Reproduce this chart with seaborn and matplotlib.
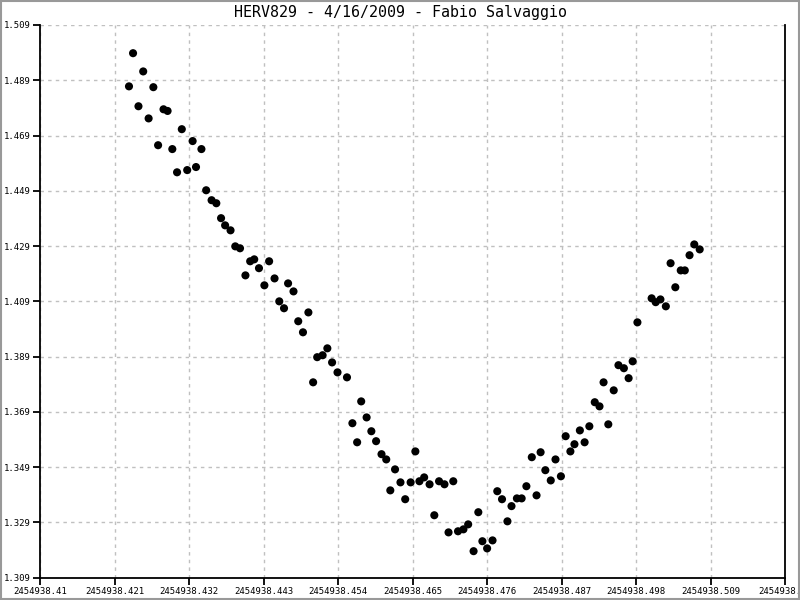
import matplotlib
matplotlib.use("Agg")
import matplotlib.pyplot as plt
import seaborn as sns
import pandas as pd

jd = [
    2454938.4231, 2454938.4237, 2454938.4245, 2454938.4252, 2454938.4260, 2454938.4267,
    2454938.4274, 2454938.4282, 2454938.4288, 2454938.4295, 2454938.4302, 2454938.4309,
    2454938.4317, 2454938.4325, 2454938.4330, 2454938.4338, 2454938.4345, 2454938.4353,
    2454938.4360, 2454938.4367, 2454938.4373, 2454938.4381, 2454938.4388, 2454938.4395,
    2454938.4403, 2454938.4410, 2454938.4416, 2454938.4423, 2454938.4431, 2454938.4438,
    2454938.4446, 2454938.4453, 2454938.4460, 2454938.4466, 2454938.4474, 2454938.4481,
    2454938.4488, 2454938.4496, 2454938.4503, 2454938.4509, 2454938.4517, 2454938.4524,
    2454938.4531, 2454938.4539, 2454938.4553, 2454938.4561, 2454938.4568, 2454938.4574,
    2454938.4582, 2454938.4589, 2454938.4596, 2454938.4604, 2454938.4611, 2454938.4617,
    2454938.4624, 2454938.4632, 2454938.4639, 2454938.4647, 2454938.4654, 2454938.4660,
    2454938.4667, 2454938.4675, 2454938.4682, 2454938.4689, 2454938.4697, 2454938.4703,
    2454938.4710, 2454938.4717, 2454938.4725, 2454938.4732, 2454938.4740, 2454938.4747,
    2454938.4753, 2454938.4760, 2454938.4768, 2454938.4775, 2454938.4782, 2454938.4790,
    2454938.4796, 2454938.4804, 2454938.4811, 2454938.4818, 2454938.4826, 2454938.4833,
    2454938.4839, 2454938.4846, 2454938.4854, 2454938.4861, 2454938.4869, 2454938.4876,
    2454938.4883, 2454938.4889, 2454938.4897, 2454938.4904, 2454938.4911, 2454938.4919,
    2454938.4926, 2454938.4932, 2454938.4939, 2454938.4947, 2454938.4954, 2454938.4962,
    2454938.4969, 2454938.4975, 2454938.4982, 2454938.5003, 2454938.5009, 2454938.5016,
    2454938.5024, 2454938.5031, 2454938.5038, 2454938.5046, 2454938.5052, 2454938.5059,
    2454938.5066, 2454938.5074,
]
mag = [
    1.4868, 1.4988, 1.4796, 1.4922, 1.4752, 1.4865,
    1.4655, 1.4785, 1.4779, 1.4641, 1.4557, 1.4713,
    1.4565, 1.4670, 1.4576, 1.4641, 1.4492, 1.4456,
    1.4445, 1.4391, 1.4365, 1.4347, 1.4289, 1.4282,
    1.4184, 1.4235, 1.4242, 1.4210, 1.4148, 1.4235,
    1.4173, 1.4090, 1.4065, 1.4155, 1.4126, 1.4018,
    1.3978, 1.4050, 1.3797, 1.3888, 1.3895, 1.3920,
    1.3869, 1.3833, 1.3815, 1.3649, 1.3580, 1.3728,
    1.3670, 1.3620, 1.3584, 1.3537, 1.3518, 1.3406,
    1.3482, 1.3435, 1.3374, 1.3435, 1.3547, 1.3439,
    1.3453, 1.3428, 1.3316, 1.3439, 1.3428, 1.3254,
    1.3439, 1.3258, 1.3265, 1.3283, 1.3186, 1.3327,
    1.3222, 1.3196, 1.3225, 1.3403, 1.3374, 1.3294,
    1.3349, 1.3377, 1.3377, 1.3421, 1.3526, 1.3388,
    1.3544, 1.3479, 1.3442, 1.3518, 1.3457, 1.3602,
    1.3547, 1.3573, 1.3623, 1.3580, 1.3638, 1.3725,
    1.3710, 1.3797, 1.3645, 1.3768, 1.3859, 1.3848,
    1.3812, 1.3873, 1.4014, 1.4101, 1.4087, 1.4097,
    1.4072, 1.4228, 1.4141, 1.4202, 1.4202, 1.4257,
    1.4296, 1.4278,
]

x_ticks = [2454938.41, 2454938.421, 2454938.432, 2454938.443, 2454938.454, 2454938.465,
           2454938.476, 2454938.487, 2454938.498, 2454938.509, 2454938.52]
x_labels = ["2454938.41", "2454938.421", "2454938.432", "2454938.443", "2454938.454",
            "2454938.465", "2454938.476", "2454938.487", "2454938.498", "2454938.509",
            "2454938.52"]
y_ticks = [1.309, 1.329, 1.349, 1.369, 1.389, 1.409, 1.429, 1.449, 1.469, 1.489, 1.509]
y_labels = ["1.309", "1.329", "1.349", "1.369", "1.389", "1.409", "1.429", "1.449",
            "1.469", "1.489", "1.509"]
title = "HERV829 - 4/16/2009 - Fabio Salvaggio"

df = pd.DataFrame({"JD": jd, "mag": mag})

sns.set_style("white")
plt.rcParams["font.family"] = ["DejaVu Sans Mono"]

fig = plt.figure(figsize=(8, 6), dpi=100)
ax = fig.add_axes([40.3 / 800, 1 - 577.7 / 600, (785 - 40.3) / 800, (577.7 - 25) / 600])

sns.scatterplot(data=df, x="JD", y="mag", ax=ax, color="black", s=34,
                edgecolor="none", linewidth=0, zorder=3)

ax.set_xlim(x_ticks[0], x_ticks[-1])
ax.set_ylim(y_ticks[0], y_ticks[-1])
ax.set_xticks(x_ticks)
ax.set_xticklabels(x_labels)
ax.set_yticks(y_ticks)
ax.set_yticklabels(y_labels)
ax.set_xlabel("")
ax.set_ylabel("")

ax.grid(True, color="#c0c0c0", linestyle=(0, (2.5, 3)), linewidth=1)
ax.tick_params(axis="both", direction="out", length=5, width=1.3, color="black",
               labelcolor="black", labelsize=6.5, pad=2, left=True, bottom=True)

for side in ["left", "bottom", "right"]:
    ax.spines[side].set_visible(True)
    ax.spines[side].set_color("black")
    ax.spines[side].set_linewidth(1.3)
ax.spines["top"].set_visible(False)

fig.text(0.5, 1 - 12 / 600, title, ha="center", va="center", fontsize=10.8,
         color="black")

# grey frame around the whole picture
fig.patches.append(plt.Rectangle((0.001, 0.001), 0.998, 0.998, transform=fig.transFigure,
                                 fill=False, edgecolor="#999999", linewidth=1.5))

fig.savefig("out.png", dpi=100)
